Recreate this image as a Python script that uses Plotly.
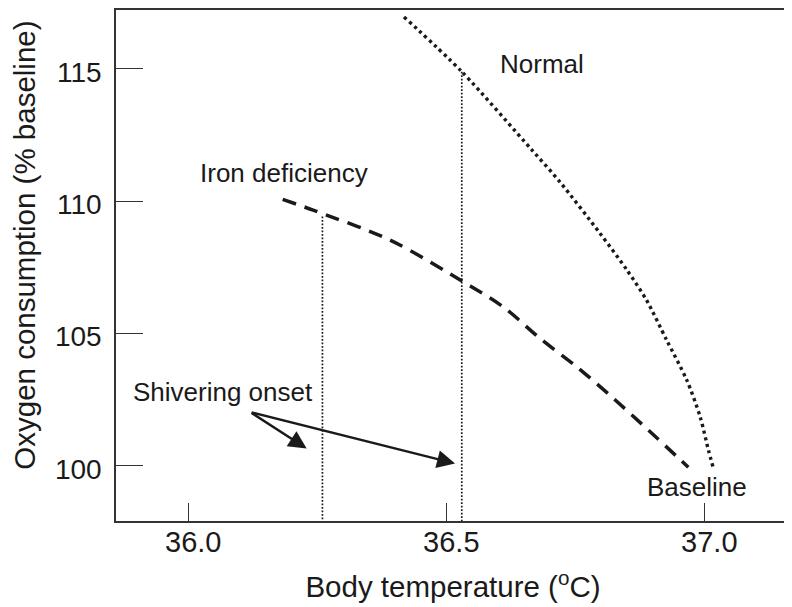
import plotly.graph_objects as go

# ---- data ----
normal_temp = [36.418, 36.530, 36.666, 36.720, 36.798, 36.850, 36.888, 36.927, 36.966, 36.992, 37.008, 37.017]
normal_o2 = [116.96, 114.89, 111.93, 110.73, 108.78, 107.40, 106.26, 104.75, 103.24, 101.85, 100.59, 99.95]

iron_temp = [36.183, 36.242, 36.391, 36.533, 36.610, 36.682, 36.753, 36.824, 36.895, 36.969]
iron_o2 = [110.07, 109.66, 108.53, 106.95, 106.01, 104.81, 103.74, 102.55, 101.29, 99.95]

# shivering onset: temperature and oxygen consumption at onset
onset_temp = [36.26, 36.53]
onset_o2 = [109.42, 114.89]

x_ticks = [36.0, 36.5, 37.0]
x_ticklabels = ["36.0", "36.5", "37.0"]
y_ticks = [100, 105, 110, 115]
y_ticklabels = ["100", "105", "110", "115"]

x_range = [35.86, 37.166]
y_range = [97.92, 117.22]

# label anchors (data coords)
labels = [
    ("Normal", 36.601, 115.18),
    ("Iron deficiency", 36.019, 111.06),
    ("Shivering onset", 35.890, 102.79),
    ("Baseline", 36.885, 99.20),
]
arrow_tail = (36.1198, 102.04)
arrow_heads = [(36.2295, 100.66), (36.517, 100.09)]

INK = "#1a1a1a"
FONT = "Liberation Sans, Arial, Helvetica, sans-serif"

fig = go.Figure()

# vertical dotted lines at shivering onset
for t, o in zip(onset_temp, onset_o2):
    fig.add_trace(go.Scatter(
        x=[t, t], y=[o, y_range[0]], mode="lines",
        line=dict(color=INK, width=1.7, dash="1.7px,1.8px"),
        showlegend=False, hoverinfo="skip"))

fig.add_trace(go.Scatter(
    x=normal_temp, y=normal_o2, mode="lines", name="Normal",
    line=dict(color=INK, width=3.4, dash="3.2px,3.6px", shape="spline", smoothing=0.8),
    showlegend=False))

fig.add_trace(go.Scatter(
    x=iron_temp, y=iron_o2, mode="lines", name="Iron deficiency",
    line=dict(color=INK, width=3.5, dash="14px,9px", shape="spline", smoothing=0.9),
    showlegend=False))

for text, x, y in labels:
    fig.add_annotation(x=x, y=y, text=text, showarrow=False,
                       xanchor="left", yanchor="middle",
                       font=dict(family=FONT, size=26, color=INK))

for hx, hy in arrow_heads:
    fig.add_annotation(x=hx, y=hy, ax=arrow_tail[0], ay=arrow_tail[1],
                       axref="x", ayref="y", xref="x", yref="y", text="",
                       showarrow=True, arrowhead=2, arrowsize=1.5,
                       arrowwidth=2.4, arrowcolor=INK, standoff=0)

# y-axis title as a rotated annotation so it can sit close to the left edge
fig.add_annotation(x=-0.137, y=0.54, xref="paper", yref="paper",
                   text="Oxygen consumption (% baseline)", textangle=-90,
                   showarrow=False, xanchor="center", yanchor="middle",
                   font=dict(family=FONT, size=29.5, color=INK))

# the page body adds an 8px offset, so the figure is 8px smaller than the window
fig.update_layout(
    width=784, height=599,
    margin=dict(l=108, r=2, t=2, b=86, autoexpand=False),
    paper_bgcolor="white", plot_bgcolor="white",
    font=dict(family=FONT, color=INK),
    showlegend=False,
)

fig.update_xaxes(
    range=x_range, tickvals=x_ticks, ticktext=x_ticklabels,
    ticks="inside", ticklen=18, tickwidth=1.3, tickcolor="#333",
    showline=True, linecolor="#333", linewidth=1.6, mirror=True,
    showgrid=False, zeroline=False, automargin=False,
    tickfont=dict(family=FONT, size=29, color=INK),
    ticklabelshift=5, ticklabelstandoff=-6,
    title=dict(text="Body temperature (<sup>o</sup>C)",
               font=dict(family=FONT, size=29.5, color=INK), standoff=20),
)
fig.update_yaxes(
    range=y_range, tickvals=y_ticks, ticktext=y_ticklabels,
    ticks="inside", ticklen=27, tickwidth=1.3, tickcolor="#333",
    showline=True, linecolor="#333", linewidth=1.6,
    showgrid=False, zeroline=False, automargin=False,
    tickfont=dict(family=FONT, size=28, color=INK),
    ticklabelshift=3, ticklabelstandoff=7,
)

fig.write_html("out.html")
